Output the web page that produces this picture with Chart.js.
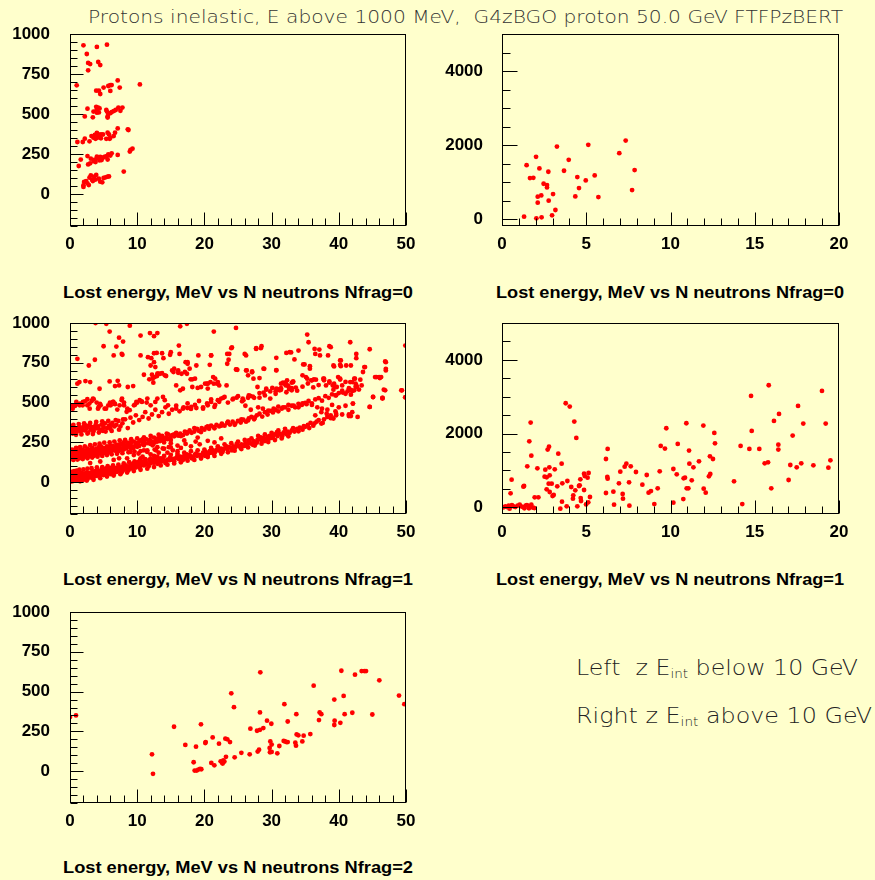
<!DOCTYPE html>
<html>
<head>
<meta charset="utf-8">
<title>Protons inelastic, Lost energy vs N neutrons</title>
<script src="https://cdn.jsdelivr.net/npm/chart.js@4.4.1/dist/chart.umd.min.js"></script>
<style>
  html, body { margin: 0; padding: 0; }
  body { width: 875px; height: 880px; background: #ffffcc; position: relative; overflow: hidden; }
  canvas { position: absolute; }
  .txt { position: absolute; white-space: nowrap; transform-origin: left center; }
  .head { font-family: "DejaVu Sans", sans-serif; font-weight: 200; color: #333; font-size: 18px; line-height: 22px; }
  .axt { font-family: "Liberation Sans", Arial, sans-serif; font-weight: bold; color: #000; font-size: 17px; line-height: 20px; }
  .note { font-family: "DejaVu Sans", sans-serif; font-weight: 200; color: #222; font-size: 21px; line-height: 26px; }
  .note sub { font-size: 12px; vertical-align: -3px; }
  #err { position: absolute; left: 440px; top: 770px; font: 11px monospace; color: #900; white-space: pre; }
</style>
</head>
<body>
<div class="txt head" data-w="755" style="left:88px;top:6px;">Protons inelastic, E above 1000 MeV,&nbsp; G4zBGO proton 50.0 GeV FTFPzBERT</div>

<canvas id="p1" width="425" height="240" style="left:0px;top:20px"></canvas>
<canvas id="p2" width="440" height="240" style="left:430px;top:20px"></canvas>
<canvas id="p3" width="425" height="240" style="left:0px;top:309px"></canvas>
<canvas id="p4" width="440" height="240" style="left:430px;top:309px"></canvas>
<canvas id="p5" width="425" height="240" style="left:0px;top:598px"></canvas>

<div class="txt axt" data-w="350" style="left:63px;top:283px;">Lost energy, MeV vs N neutrons Nfrag=0</div>
<div class="txt axt" data-w="348" style="left:496px;top:283px;">Lost energy, MeV vs N neutrons Nfrag=0</div>
<div class="txt axt" data-w="350" style="left:63px;top:570px;">Lost energy, MeV vs N neutrons Nfrag=1</div>
<div class="txt axt" data-w="348" style="left:496px;top:570px;">Lost energy, MeV vs N neutrons Nfrag=1</div>
<div class="txt axt" data-w="350" style="left:63px;top:858px;">Lost energy, MeV vs N neutrons Nfrag=2</div>

<div class="txt note" data-w="282" style="left:576px;top:655px;">Left&nbsp; z E<sub>int</sub> below 10 GeV</div>
<div class="txt note" data-w="296" style="left:576px;top:703px;">Right z E<sub>int</sub> above 10 GeV</div>
<div id="err"></div>

<script>
// ---- tick labels ----
const xTicksLeft  = [0, 10, 20, 30, 40, 50];
const yTicksLeft  = [0, 250, 500, 750, 1000];
const xTicksRight = [0, 5, 10, 15, 20];
const yTicksRight = [0, 2000, 4000];

// ---- Nfrag=0, E_int below 10 GeV : [N neutrons, lost energy MeV] ----
const frag0Low = [
  [1.0,679],[2.0,929],[4.0,919],[5.5,933],[2.5,875],[2.7,819],[3.0,812],[2.7,773],[4.2,825],[4.5,806],
  [7.1,710],[7.4,665],[10.4,685],[3.9,646],[4.3,646],[4.5,625],[5.0,665],[5.7,675],[6.0,681],[6.2,681],[6.0,644],
  [2.6,533],[2.2,485],[3.4,479],[3.5,515],[3.9,545],[4.0,530],[4.2,540],[4.4,535],[4.0,508],[4.3,510],
  [5.4,525],[5.5,515],[5.6,485],[5.7,500],[6.0,505],[6.2,512],[6.5,518],[6.8,525],[7.2,540],[7.5,520],[7.8,540],[5.6,478],
  [1.1,325],[1.9,325],[2.2,346],[2.9,329],[3.2,362],[3.5,352],[3.7,370],[4.0,382],[4.2,372],[4.4,362],
  [4.6,372],[4.9,372],[3.8,345],[4.1,352],[4.6,348],[5.6,383],[5.8,372],[6.0,352],[6.5,362],[6.7,383],
  [7.1,410],[8.6,404],[8.7,400],[5.4,345],[5.9,345],
  [1.3,175],[1.6,215],[2.6,237],[2.7,185],[3.0,192],[3.1,221],[3.5,206],[3.7,215],[4.0,233],[4.2,225],
  [4.5,232],[4.8,225],[5.0,229],[5.2,233],[5.5,237],[5.7,248],[6.0,240],[6.2,254],[7.1,244],[8.9,265],
  [9.0,275],[9.3,283],[8.0,140],[4.4,210],[3.8,200],[5.6,215],[4.7,212],
  [2.0,54],[2.1,75],[2.4,81],[2.6,67],[2.9,102],[3.1,117],[3.4,81],[3.6,108],[3.9,119],[4.3,96],
  [4.5,77],[4.8,73],[5.0,100],[5.3,104],[5.6,108],[5.8,110],[2.0,44],[2.8,56],[3.3,88],[3.8,90]
];

// ---- Nfrag=0, E_int above 10 GeV ----
const frag0High = [
  [1.31,72],[1.46,1462],[1.66,1112],[1.86,1121],[2.02,1686],[2.22,1372],[2.04,27],[2.35,54],[2.12,449],[2.12,610],
  [2.33,646],[2.47,960],[2.67,924],[2.67,861],[2.75,1283],[2.77,502],[2.97,108],[3.03,682],[3.17,251],[3.26,1964],
  [3.68,1310],[3.96,1606],[4.35,619],[4.47,1139],[4.57,843],[4.97,1050],[5.12,2009],[5.50,1184],[5.72,601],
  [6.96,1785],[7.34,2126],[7.72,789],[7.87,1328]
];

// ---- Nfrag=1, E_int below 10 GeV (lowest band) ----
const frag1Band1 = [
  [0.1,12],[0.2,35],[0.3,5],[0.3,48],[0.4,22],[0.5,30],[0.5,8],[0.6,42],[0.7,18],[0.8,55],[0.9,25],[1.0,10],
  [1.0,38],[1.1,28],[1.2,50],[1.3,15],[1.4,34],[1.5,45],[1.6,22],[1.7,60],[1.8,30],[1.9,12],[2.0,40],[2.1,55],
  [2.2,25],[2.3,48],[2.4,35],[2.5,62],[2.6,20],[2.7,44],[2.8,30],[2.9,58],[3.0,38],[3.1,50],[3.2,28],[3.3,65],
  [3.4,42],[3.5,55],[3.6,35],[3.7,70],[3.8,48],[3.9,60],[4.0,40],[4.1,75],[4.2,52],[4.3,62],[4.4,45],[4.5,68],
  [4.6,55],[4.7,80],[4.8,50],[4.9,65],[5.0,58],[5.1,72],[5.2,48],[5.3,85],[5.4,62],[5.5,70],[5.6,55],[5.7,78],
  [5.8,65],[5.9,90],[6.0,60],[6.2,75],[6.3,68],[6.5,82],[6.6,58],[6.8,88],[6.9,72],[7.0,65],[7.2,95],[7.3,80],
  [7.5,70],[7.6,92],[7.8,85],[7.9,100],[8.0,78],[8.2,90],[8.3,105],[8.5,82],[8.6,98],[8.8,88],[9.0,110],[9.1,95],
  [9.3,85],[9.4,118],[9.6,100],[9.8,92],[10.0,112],[10.1,125],[10.3,98],[10.5,108],[10.7,130],[10.8,115],[11.0,105],
  [11.2,135],[11.4,120],[11.6,112],[11.8,140],[12.0,118],[12.2,128],[12.5,122],[12.7,145],[12.9,132],[13.1,125],
  [13.3,138],[13.6,130],[13.8,148],[14.0,135],[14.3,128],[14.5,142],[14.8,138],[15.0,150],[15.3,140],[15.6,148],
  [15.9,155],[16.2,145],[16.4,160],[16.7,152],[17.0,165],[17.2,150],[17.5,158],[17.8,170],[18.0,162],[18.3,155],
  [18.6,175],[18.9,165],[19.2,172],[19.5,160],[19.8,185],[20.0,178],[20.2,190],[20.5,172],[20.8,195],[21.0,185],
  [21.3,200],[21.6,190],[21.9,205],[22.2,198],[22.5,210],[22.8,202],[23.1,215],[23.4,208],[23.7,220],[24.0,212],
  [24.3,225],[24.6,218],[24.9,232],[25.2,225],[25.5,238],[25.8,230],[26.1,245],[26.4,238],[26.7,250],[27.0,242],
  [27.3,258],[27.6,250],[27.9,265],[28.2,272],[28.5,260],[28.8,278],[29.1,270],[29.4,285],[29.7,290],[30.0,278],
  [30.3,295],[30.6,302],[30.9,290],[31.2,305],[31.5,298],[31.8,312],[32.1,305],[32.4,318],[32.7,310],[33.0,325],
  [33.4,318],[33.8,335],[34.2,342],[34.6,330],[35.0,348],[35.4,360],[35.8,372],[36.2,355],[36.7,380],[37.0,390],
  [37.4,368],[37.8,395],[38.3,410],[38.8,420],[39.2,400],[39.6,430],[41.5,425],[41.8,415],[42.0,440],
  [0.0,20],[0.0,45],[0.1,30],[0.2,15],[0.4,40],[0.6,25],[0.8,10],[1.1,45],[1.3,32],[1.6,40],[2.0,18],[2.3,30],
  [0.0,5],[0.1,55],[0.3,28],[0.7,35],[0.9,45],[1.2,20],[1.5,28],[1.8,48],
  [5.0,45],[5.5,82],[6.1,50],[6.4,88],[7.1,78],[7.7,62],[8.1,95],[8.7,75],[9.2,102],[9.9,120],[10.4,90],[11.1,118],
  [11.7,100],[12.3,140],[13.0,115],[13.5,150],[14.2,120],[14.9,155],[15.5,132],[16.0,165],[16.8,140],[17.4,175],
  [18.1,150],[18.8,180],[19.4,168],[20.1,165],[20.7,182],[21.4,178],[22.0,212],[22.7,190],[23.3,225],[24.1,200],
  [24.8,240],[25.4,215],[26.0,228],[26.6,262],[27.2,235],[27.8,248],[28.4,282],[29.0,258],[29.6,272],[30.2,285],
  [30.8,315],[31.6,290],[32.3,300],[33.2,340],[34.0,320],[34.8,352],[35.6,340],[36.4,370],
  [0.2,65],[0.6,70],[1.0,72],[1.4,78],[2.0,80],[2.6,85],[3.2,88],[4.0,92],[4.8,95],[5.6,100],[6.4,105],[7.2,110],
  [8.0,118],[8.8,125],[9.6,130],[10.4,138],[11.2,145],[12.0,150],[13.0,160],[14.0,165],[15.0,172],[16.0,178],
  [17.0,185],[18.0,195],[1.5,5],[2.5,10],[3.5,15],[4.5,25],[5.5,35],[6.5,42],[7.5,50],[8.5,60],[9.5,70],[10.5,78],
  [11.5,85],[12.5,95],[13.5,105],[14.5,110],[15.5,118],[16.5,125],[17.5,135],[18.5,140],[19.5,148],[20.5,158],
  [21.5,165],[22.5,178],[23.5,188],[24.5,198],[25.5,208],[26.5,218],[27.5,230],[28.5,242],[29.5,252],[30.5,265],
  [31.5,275],[32.5,288],[19.0,200],[20.0,205],[21.0,215],[22.0,225],[23.0,238],[24.0,245],[25.0,255],[26.0,265],
  [27.0,275],[28.0,290],[29.0,300],[30.0,310],[31.0,325],[32.0,335]
];

// ---- Nfrag=1, E_int below 10 GeV (second band) ----
const frag1Band2 = [
  [0.0,160],[0.1,185],[0.2,150],[0.3,172],[0.4,195],[0.5,165],[0.6,180],[0.7,155],[0.8,190],[0.9,170],[1.0,200],
  [1.1,160],[1.2,185],[1.3,175],[1.4,150],[1.5,195],[1.6,168],[1.7,182],[1.8,158],[1.9,205],[2.0,172],[2.1,188],
  [2.2,162],[2.4,198],[2.5,178],[2.6,210],[2.8,185],[2.9,165],[3.0,195],[3.2,175],[3.3,215],[3.4,188],[3.6,200],
  [3.7,170],[3.9,210],[4.0,185],[4.2,198],[4.3,220],[4.5,180],[4.6,205],[4.8,192],[5.0,215],[5.2,198],[5.3,182],
  [5.5,225],[5.7,205],[5.9,212],[6.1,190],[6.3,228],[6.5,210],[6.7,198],[6.9,235],[7.1,215],[7.3,222],[7.5,205],
  [7.7,240],[7.9,218],[8.1,230],[8.4,212],[8.6,248],[8.8,225],[9.0,238],[9.3,220],[9.5,255],[9.8,235],[10.0,245],
  [10.3,228],[10.5,262],[10.8,240],[11.0,252],[11.3,270],[11.6,245],[11.9,265],[12.2,255],[12.5,280],[12.8,262],
  [13.1,275],[13.4,258],[13.7,290],[14.0,270],[14.3,282],[14.6,300],[14.9,278],[15.2,295],[15.5,288],[15.8,310],
  [16.1,292],[16.4,305],[16.8,295],[17.1,318],[17.4,305],[17.8,325],[18.1,310],[18.5,318],[18.9,335],[19.2,322],
  [19.6,340],[20.0,330],[20.3,345],[20.7,335],[21.0,355],[21.4,345],[21.8,360],[22.2,350],[22.6,368],[23.0,355],
  [23.4,372],[23.8,362],[24.2,380],[24.6,368],[25.0,385],[25.4,375],[25.8,392],[26.2,380],[26.6,400],[27.0,410],
  [27.4,395],[27.8,420],[28.2,430],[28.6,412],[29.0,440],[29.4,425],[29.8,448],[30.2,438],[30.6,455],[31.0,445],
  [31.5,462],[32.0,470],[32.5,455],[33.0,480],[33.5,470],[34.0,492],[34.5,485],[35.0,498],[35.5,510],[36.0,495],
  [36.5,520],[37.0,528],[37.5,512],[38.0,540],[38.5,530],[39.0,552],[39.5,545],[40.0,560],[40.5,575],[41.0,555],
  [41.5,590],[42.0,572],[42.5,600],[43.0,582],
  [0.0,175],[0.2,165],[0.4,182],[0.6,158],[0.8,172],[1.0,185],[1.2,155],[1.4,178],[1.7,195],[2.0,160],[2.3,182],
  [2.7,170],[3.1,205],[3.5,180],[3.8,195],[4.1,172],[4.4,210],[4.9,200],[5.4,205],[5.8,190],[6.2,215],[6.8,220],
  [7.4,238],[8.0,205],[8.5,232],[9.1,250],[9.7,228],[10.2,250],[11.0,232],[11.8,258],[12.6,248],[13.5,282],
  [14.5,270],[15.5,300],[16.5,290],[17.5,312],[18.5,340],[19.5,315],[20.5,350],[21.5,338],[22.5,355],[23.5,380],
  [24.5,360],[25.5,395],[26.5,388],[27.5,405],
  [8.5,150],[9.5,170],[10.2,180],[10.8,160],[11.5,190],[12.0,175],[12.8,200],[13.2,185],[14.0,210],[14.7,220],
  [15.3,200],[16.0,230],[16.5,215],[17.2,240],[18.0,225],[18.7,255],[19.3,238],[20.5,260],[21.5,250],[22.5,275],
  [6.5,140],[7.3,150],[9.0,190],[11.0,200],[13.0,220],[15.0,245],[17.0,262],[19.0,280],[3.0,120],[4.5,130],
  [10.5,150],[12.5,165],[14.5,185],[16.0,195],
  [0.3,205],[0.5,140],[0.9,215],[1.1,142],[1.5,220],[1.9,145],[2.2,225],[2.6,150],[3.0,232],[3.3,155],[3.7,238],
  [4.1,160],[4.4,242],[4.8,165],[5.1,248],[5.5,170],[5.9,250],[6.2,175],[6.6,255],[7.0,178],[7.4,262],[7.8,182],
  [8.2,265],[8.7,188],[9.1,270],[9.6,192],[10.0,275],[10.5,195],[11.0,282],[11.5,200],[12.0,290],[12.6,205],
  [13.2,298],[13.8,212],[14.4,305],[15.0,218],[0.2,190],[0.7,198],[1.3,165],[2.4,175],[3.5,165],[4.6,225],
  [6.0,230],[7.2,195],[8.0,250],[9.4,212],[10.8,268],[12.3,232],[13.6,268],[1.0,172],[2.0,190],[3.0,180],
  [4.0,205],[5.0,190],[6.0,200],[7.0,225],[8.0,232],[9.0,215],[10.0,222],[11.0,245],[12.0,240],[13.0,255],
  [14.0,250],[15.0,265]
];

// ---- Nfrag=1, E_int below 10 GeV (third band and spread above) ----
const frag1Band3 = [
  [0.0,310],[0.2,330],[0.4,305],[0.6,322],[0.8,340],[1.0,315],[1.2,328],[1.4,345],[1.6,318],[1.8,335],[2.0,350],
  [2.2,325],[2.5,340],[2.7,312],[2.9,355],[3.1,330],[3.3,345],[3.5,320],[3.8,358],[4.0,338],[4.2,350],[4.5,330],
  [4.7,362],[5.0,345],[5.2,370],[5.5,340],[5.8,355],[6.0,335],[6.3,372],[6.6,350],[6.9,360],[7.2,385],[7.5,350],
  [7.8,370],[8.2,395],[8.6,340],[9.0,405],[9.4,375],[9.8,420],[10.3,390],[10.8,410],[11.2,440],[11.7,400],
  [12.2,425],[12.7,455],[13.2,415],[13.7,440],[14.2,470],[14.7,430],[15.2,455],[15.8,480],[16.3,445],[16.9,470],
  [17.5,495],[18.0,460],[18.6,485],[19.2,510],[19.8,470],[20.4,495],[21.0,520],[21.6,485],[22.2,505],[22.8,530],
  [23.5,500],[24.2,520],[25.0,540],[25.8,515],[26.6,545],[27.4,530],[28.2,560],[29.0,545],[29.8,570],[30.6,555],
  [31.4,580],[32.2,565],[33.0,590],[33.8,575],[34.6,600],[35.4,620],[36.2,595],[37.0,610],[37.8,640],[38.6,625],
  [39.4,600],[40.2,645],[41.0,630],[41.8,580],[42.6,610],
  [25.7,525],[25.6,508],[26.5,530],[26.8,542],[27.2,538],[28.2,531],[28.8,563],[29.2,581],[29.8,525],[30.1,592],
  [30.6,571],[30.9,585],[31.4,590],[31.9,619],[32.1,625],[32.4,608],[32.6,585],[33.0,625],[33.2,633],[26.1,480],
  [26.9,455],[28.0,470],[28.7,462],[29.5,450],[30.3,462],[31.0,475],[31.7,470],[32.5,485],[33.3,480],[34.0,470],
  [34.6,495],[35.2,490],[36.0,485],[36.8,470],[37.5,462],[38.3,455],[39.0,485],[40.0,470],[41.0,480],[42.1,494],
  [44.6,473],[45.1,535],[46.5,529],[36.5,420],[37.4,440],[38.2,430],[39.5,445],[40.5,425],[41.5,415],[42.8,410],
  [39.6,420],[37.6,372],[38.8,402],
  [0.1,350],[0.5,360],[0.9,298],[1.3,365],[1.7,300],[2.1,370],[2.6,305],[3.0,372],[3.4,302],[3.9,378],[4.3,312],
  [4.8,382],[5.3,318],[5.7,385],[6.2,322],[6.8,390],[7.3,330],[7.9,395],[0.3,340],[1.5,330],[2.4,355],[3.6,335],
  [4.9,322],[6.1,360]
];

// ---- Nfrag=1, E_int below 10 GeV (upper sparse rows) ----
const frag1Upper = [
  [0.4,462],[0.74,479],[1.09,490],[1.49,494],[1.88,483],[2.23,508],[2.58,521],[2.88,494],[3.22,510],[3.52,521],
  [3.97,500],[4.27,473],[4.46,492],[5.36,462],[5.70,483],[5.95,500],[6.45,504],[6.70,490],[7.04,456],[7.69,515],
  [8.04,500],[8.43,442],[9.67,487],[10.02,500],[10.66,508],[11.41,500],
  [0.45,483],[0.94,504],[1.44,483],[1.93,504],[2.58,483],[2.93,462],[3.42,525],[4.17,462],[4.56,483],[5.16,462],
  [6.05,483],[6.4,504],[6.65,494],[7.39,483],[7.74,525],[8.04,483],[8.53,462],[8.88,452],[9.52,483],[9.87,504],
  [10.37,515],[10.71,504],[11.51,525],[12.0,483],[12.7,504],[13.0,525],[13.84,535],[14.1,515],[14.58,483],[15.8,462],
  [16.8,462],[17.46,466],[18.05,473],[18.8,466],[19.8,462],[20.5,483],[21.0,504],[21.5,473],[22.0,515],[22.5,525],
  [23.0,535],[24.3,525],[24.8,531],
  [1.1,619],[1.4,629],[2.3,635],[3.0,629],[4.4,587],[5.9,633],[6.7,604],[7.1,637],[7.3,608],[8.6,598],[9.4,604],
  [11.0,675],[11.8,646],[12.2,675],[12.3,650],[12.4,625],[12.6,660],[13.0,681],[13.4,681],[14.1,671],[15.2,702],
  [15.4,692],[16.1,687],[15.8,608],[16.4,577],[16.8,587],[18.2,646],[20.5,619],[20.9,629],[21.3,660],[21.6,650],
  [21.9,619],[12.0,733],[12.5,754],[12.7,723],[12.95,667],[13.1,681],[13.7,685],[14.3,667],[15.5,713],[16.1,702],
  [16.6,681],[17.1,692],[17.4,681],[17.96,646],[18.2,598],[18.6,650],[19.0,592],[19.5,598],[20.1,619],[20.4,619],
  [20.5,588],[21.4,619],[22.0,629],[22.2,608],[23.3,608],
  [27.3,650],[27.9,598],[29.2,587],[30.7,587],[31.2,577],[32.1,608],[32.3,640],[32.99,577],[33.2,629],[34.6,671],
  [35.1,660],[35.9,640],[36.3,646],[37.7,650],[39.3,619],[39.7,598],[40.2,650],[40.5,608],[41.5,577],[41.7,629],
  [42.3,650],[42.5,619],[43.4,608],[28.2,654],[28.8,713],[30.7,702],[35.3,650],[36.0,640],[36.6,644],[35.7,713],
  [37.8,650],[39.3,727],[40.2,737],[40.3,765],[39.9,660],[42.4,650],[42.0,629],[42.7,598],[43.2,644],[43.6,692],
  [43.8,723],[45.4,660],[46.0,660],[46.1,654],[46.9,758],[47.0,702],[49.4,577],[49.9,533],[46.7,581],[46.5,525],
  [38.1,608],[38.6,633],[39.1,608],[39.2,581],[39.6,546],[40.6,563],[41.3,571],[41.8,550],[42.3,577],[42.1,494],
  [31.4,619],[31.7,625],[32.5,602],[33.6,594],[24.7,708],[26.2,702],[27.1,696],[26.5,671],
  [3.8,1000],[5.4,995],[5.9,946],[7.3,908],[7.9,883],[8.9,983],[5.0,854],[6.9,852],[10.5,921],[11.9,937],
  [12.5,917],[13.0,937],[16.4,979],[17.4,995],[21.4,946],[24.7,969],[16.2,858],[24.1,846],[23.4,806],[23.6,769],
  [28.4,842],[27.7,837],[32.2,812],[32.7,817],[34.0,827],[35.3,927],[35.5,879],[36.4,837],[37.2,796],[38.6,854],
  [38.8,848],[41.7,879],[42.6,806],[42.6,779],[44.6,835],[49.9,858],[1.1,775],[2.8,733],[3.7,769],[6.5,796],
  [7.8,800],[10.5,796],[11.6,785],[12.1,779],[12.5,810],[12.9,812],[13.7,810],[13.9,779],[14.9,800],[19.1,796],
  [21.0,796],[20.8,737],[23.4,744],[17.5,744],[17.5,754],[26.0,806],[26.2,796],[26.3,702],[27.1,690],[24.9,706],
  [28.9,712],[30.7,781],[30.7,704],[34.7,740],[35.7,729],[39.2,733],[40.2,765],[40.3,729],[41.1,733],[43.9,723],
  [45.6,660],[46.3,660],[47.0,754],[47.0,712],[49.3,577],[49.9,533],[46.5,529],[45.1,535],[44.6,473],[46.9,577],
  [7.7,806],[16.3,806],[17.2,754],[17.8,713],[18.8,733],[21.0,796],[23.7,806],[24.0,842],[24.8,708],[15.0,817],
  [27.7,842],[28.5,854],[32.9,815],[33.4,771],[34.9,740],[36.5,806],[37.1,833],[38.4,796],[41.8,733]
];

// ---- Nfrag=1, E_int above 10 GeV ----
const frag1High = [
  [0.10,0],[0.20,27],[0.30,9],[0.40,45],[0.45,-36],[0.53,27],[0.59,63],[0.69,27],[0.79,9],[0.93,45],[1.05,72],
  [1.13,27],[1.25,9],[1.33,-27],[1.40,45],[1.48,63],[1.60,-27],[1.68,27],[1.74,72],[1.84,-9],[1.92,-18],
  [0.57,751],[0.51,380],[1.27,561],[1.31,579],[1.50,1113],[1.62,1792],[1.70,2299],[1.74,1403],[1.94,272],[2.10,1059],
  [2.16,272],[2.57,1023],[2.53,833],[2.65,815],[2.65,489],[2.71,1566],[2.79,1647],[2.77,643],[2.95,643],[2.81,1086],
  [2.83,416],[2.83,869],[3.0,308],[3.07,335],[3.13,1032],[3.28,570],[3.34,1457],[3.46,-36],[3.54,1186],[3.56,154],
  [3.58,652],[3.78,2824],[3.84,27],[3.88,715],[4.02,2733],[4.11,552],[4.21,235],[4.23,326],[4.29,2326],[4.35,462],
  [4.41,1882],[4.47,27],[4.57,579],[4.61,597],[4.65,760],[4.67,253],[4.69,172],[4.87,471],[4.87,914],[4.91,851],
  [4.99,81],[5.08,805],[5.14,932],[5.12,136],[5.22,281],[6.17,389],[6.17,1312],[6.25,824],[6.27,778],[6.27,1584],
  [6.61,425],[6.65,72],[6.94,652],[7.02,968],[7.16,362],[7.18,235],[7.28,1104],[7.38,1186],[7.54,679],[7.56,45],
  [7.64,1113],[7.95,959],[8.33,615],[8.59,878],[8.70,398],[8.84,443],[9.04,90],[9.24,516],[9.36,977],[9.42,1665],
  [9.67,1593],[9.75,2145],[10.17,127],[10.17,1041],[10.37,896],[10.43,1720],[10.76,226],[10.78,787],[10.86,805],
  [10.94,2281],[10.96,516],[11.06,516],[11.10,1539],[11.12,1186],[11.26,733],[11.36,1086],[11.69,1249],[11.95,2217],
  [11.97,507],[12.09,398],[12.28,842],[12.36,905],[12.34,1385],[12.52,1312],[12.60,2018],[12.64,1738],[13.77,706],
  [14.16,1665],[14.26,90],[14.68,1584],[14.78,3023],[14.82,2072],[15.27,1584],[15.59,1195],[15.79,1222],[15.83,3312],
  [15.98,516],[16.14,2344],[16.40,1701],[16.40,1566],[16.44,2534],[17.01,742],[17.11,1149],[17.25,1946],[17.49,1086],
  [17.57,2751],[17.76,1195],[17.88,2272],[18.48,1140],[18.99,3158],[19.21,2272],[19.37,1077],[19.49,1276]
];

// ---- Nfrag=2, E_int below 10 GeV ----
const frag2Low = [
  [0.0,340],[0.89,350],[12.2,106],[12.35,-17],[15.48,279],[17.16,165],[18.40,56],[18.55,4],[18.85,4],[19.1,10],
  [19.35,15],[19.54,12],[18.75,154],[19.49,294],[20.14,177],[20.19,183],[21.03,52],[21.48,37],[21.23,212],[22.17,173],
  [22.42,62],[22.67,52],[22.82,67],[22.97,60],[22.72,48],[23.21,90],[23.12,204],[23.41,200],[23.81,183],[24.0,489],
  [24.40,402],[24.50,87],[25.5,115],[26.74,106],[26.84,267],[27.83,254],[27.93,123],[28.13,135],[28.27,369],[28.32,621],
  [28.27,260],[28.77,271],[29.32,317],[29.71,146],[29.76,119],[29.81,187],[30.01,167],[30.01,121],[29.96,298],[30.85,112],
  [31.15,158],[31.8,190],[32.0,187],[32.2,183],[32.4,183],[31.9,421],[32.4,312],[33.53,179],[33.63,160],[33.68,358],
  [33.73,231],[33.98,225],[34.57,187],[34.77,223],[35.76,233],[36.26,537],[37.05,321],[37.15,369],[37.40,358],[39.33,450],
  [39.38,317],[39.33,290],[40.23,304],[40.38,631],[40.72,473],[40.87,358],[42.01,367],[42.41,606],[43.40,629],[43.80,629],
  [44.05,629],[44.99,356],[46.03,571],[48.96,475],[49.75,421]
];

const frag1Low = [].concat(frag1Band1, frag1Band2, frag1Band3, frag1Upper);

const errors = [];

// Frame and inward-pointing axis ticks, drawn over the points.
function makeFramePlugin(o) {
  return {
    id: 'frameTicks',
    afterDraw(chart) {
      try {
        const ctx = chart.ctx, a = chart.chartArea;
        const xs = chart.scales.x, ys = chart.scales.y;
        const L = Math.round(a.left) + 0.5, R = Math.round(a.right) - 0.5;
        const T = Math.round(a.top) + 0.5, B = Math.round(a.bottom) - 0.5;
        ctx.save();
        ctx.strokeStyle = '#000000';
        ctx.lineWidth = 1;
        ctx.beginPath();
        const nx = Math.round((xs.max - xs.min) / o.xMinor);
        for (let i = 0; i <= nx; i++) {
          const v = xs.min + i * o.xMinor;
          const px = Math.round(xs.getPixelForValue(v)) + 0.5;
          const major = Math.abs(v / o.xMajor - Math.round(v / o.xMajor)) < 1e-6;
          ctx.moveTo(px, B);
          ctx.lineTo(px, B - (major ? o.xMajorLen : o.xMinorLen));
        }
        const k0 = Math.ceil(ys.min / o.yMinor), k1 = Math.floor(ys.max / o.yMinor);
        for (let k = k0; k <= k1; k++) {
          const v = k * o.yMinor;
          const py = Math.round(ys.getPixelForValue(v)) + 0.5;
          const major = Math.abs(v / o.yMajor - Math.round(v / o.yMajor)) < 1e-6;
          ctx.moveTo(L, py);
          ctx.lineTo(L + (major ? o.yMajorLen : o.yMinorLen), py);
        }
        ctx.stroke();
        ctx.strokeRect(L, T, R - L, B - T);
        ctx.restore();
      } catch (e) { errors.push('ticks: ' + e.message); }
    }
  };
}

const tickFont = { family: '"Liberation Sans", Arial, sans-serif', weight: 'bold', size: 17 };

const panels = [
  { id: 'p1', box: [0, 20, 425, 240], plot: [70, 34, 406, 226], pts: frag0Low,  xr: [0, 50], yr: [-200, 1000], xt: xTicksLeft,  yt: yTicksLeft,  side: 'L' },
  { id: 'p2', box: [430, 20, 440, 240], plot: [502, 34, 839, 226], pts: frag0High, xr: [0, 20], yr: [-180, 5000], xt: xTicksRight, yt: yTicksRight, side: 'R' },
  { id: 'p3', box: [0, 309, 425, 240], plot: [70, 323, 406, 514], pts: frag1Low,  xr: [0, 50], yr: [-200, 1000], xt: xTicksLeft,  yt: yTicksLeft,  side: 'L' },
  { id: 'p4', box: [430, 309, 440, 240], plot: [502, 323, 839, 514], pts: frag1High, xr: [0, 20], yr: [-180, 5000], xt: xTicksRight, yt: yTicksRight, side: 'R' },
  { id: 'p5', box: [0, 598, 425, 240], plot: [70, 612, 406, 803], pts: frag2Low,  xr: [0, 50], yr: [-200, 1000], xt: xTicksLeft,  yt: yTicksLeft,  side: 'L' }
];

const tickSets = {
  L: { xMajor: 10, xMinor: 2, yMajor: 250, yMinor: 50, xMajorLen: 13, xMinorLen: 7, yMajorLen: 13, yMinorLen: 7 },
  R: { xMajor: 5, xMinor: 1, yMajor: 2000, yMinor: 500, xMajorLen: 13, xMinorLen: 7, yMajorLen: 15, yMinorLen: 8 }
};

for (const p of panels) {
  try {
    const [bx, by, bw, bh] = p.box;
    const [pl, pt, pr, pb] = p.plot;
    // wanted plot edges in canvas coordinates
    const want = { left: pl - bx, top: pt - by, right: pr - bx, bottom: pb - by };
    const adj = { top: want.top, right: bw - want.right, yw: want.left, xh: bh - want.bottom };
    const chart = new Chart(document.getElementById(p.id), {
      type: 'scatter',
      data: {
        datasets: [{
          data: p.pts.map(([x, y]) => ({ x, y })),
          backgroundColor: '#ff0000',
          borderWidth: 0,
          pointRadius: 2.4,
          pointHoverRadius: 2.4
        }]
      },
      options: {
        responsive: false,
        animation: false,
        devicePixelRatio: 1,
        events: [],
        layout: { padding: { top: adj.top, right: adj.right, left: 0, bottom: 0 } },
        plugins: { legend: { display: false }, tooltip: { enabled: false } },
        scales: {
          x: {
            type: 'linear', position: 'bottom', min: p.xr[0], max: p.xr[1],
            afterBuildTicks: s => { s.ticks = p.xt.map(v => ({ value: v })); },
            afterFit: s => { s.height = adj.xh; s.paddingLeft = 0; s.paddingRight = 0; },
            grid: { display: false, drawTicks: false },
            border: { display: false },
            ticks: { padding: 8, color: '#000', font: tickFont, maxRotation: 0, autoSkip: false, callback: v => String(v) }
          },
          y: {
            type: 'linear', position: 'left', min: p.yr[0], max: p.yr[1],
            afterBuildTicks: s => { s.ticks = p.yt.map(v => ({ value: v })); },
            afterFit: s => { s.width = adj.yw; s.paddingTop = 0; s.paddingBottom = 0; },
            grid: { display: false, drawTicks: false },
            border: { display: false },
            ticks: { padding: p.side === 'L' ? 20 : 19, color: '#000', font: tickFont, autoSkip: false, callback: v => String(v) }
          }
        }
      },
      plugins: [makeFramePlugin(tickSets[p.side])]
    });
    // settle the plot rectangle on its wanted edges
    for (let k = 0; k < 3; k++) {
      const ca = chart.chartArea;
      const dt = want.top - ca.top, dl = want.left - ca.left, dr = want.right - ca.right, db = want.bottom - ca.bottom;
      if (Math.abs(dt) + Math.abs(dl) + Math.abs(dr) + Math.abs(db) < 0.5) break;
      adj.top += dt; adj.right -= dr; adj.yw += dl; adj.xh -= db;
      chart.options.layout.padding = { top: adj.top, right: adj.right, left: 0, bottom: 0 };
      chart.update('none');
    }
  } catch (e) { errors.push(p.id + ': ' + e.message); }
}

// Stretch each text line to its intended width.
document.querySelectorAll('.txt[data-w]').forEach(el => {
  const target = +el.dataset.w;
  const w = el.getBoundingClientRect().width;
  if (w > 0) el.style.transform = 'scaleX(' + (target / w).toFixed(4) + ')';
});
if (errors.length) document.getElementById('err').textContent = errors.join('\n');
</script>
</body>
</html>
